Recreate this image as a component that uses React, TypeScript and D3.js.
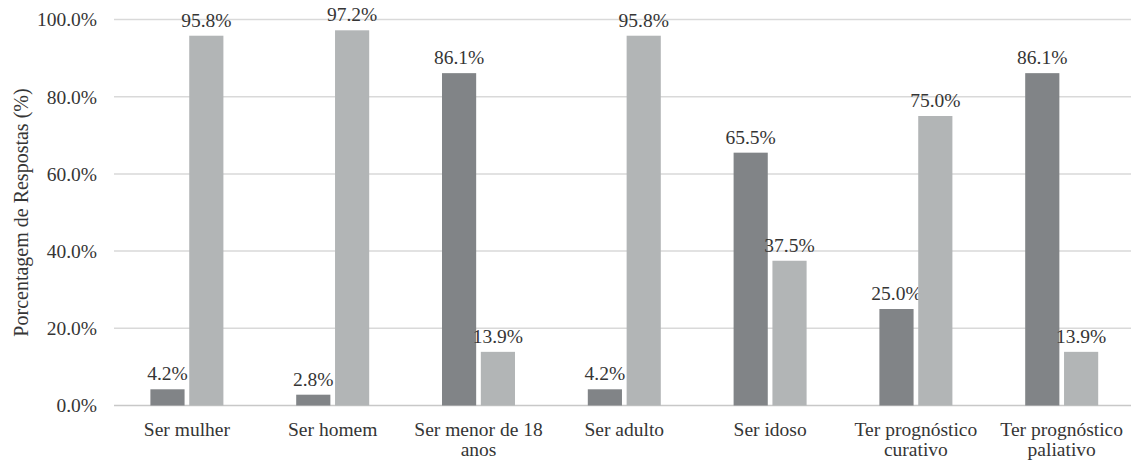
import React from "react";
import * as d3 from "d3";

const categories = [
  "Ser mulher",
  "Ser homem",
  "Ser menor de 18\nanos",
  "Ser adulto",
  "Ser idoso",
  "Ter prognóstico\ncurativo",
  "Ter prognóstico\npaliativo",
];
const seriesDark = [4.2, 2.8, 86.1, 4.2, 65.5, 25.0, 86.1];
const seriesLight = [95.8, 97.2, 13.9, 95.8, 37.5, 75.0, 13.9];
const yTicks = [0, 20, 40, 60, 80, 100];
const yTitle = "Porcentagem de Respostas (%)";

const W = 1131;
const H = 463;
const M = { left: 114, top: 19.5, bottom: 405.5 };
const STEP = 145.8;
const FONT = "'Liberation Serif', 'Times New Roman', serif";
const FS = 19.5;

export default function App() {
  const x = d3
    .scaleBand<string>()
    .domain(categories)
    .range([M.left, M.left + STEP * categories.length])
    .paddingInner(0)
    .paddingOuter(0);
  const inner = d3
    .scaleBand<string>()
    .domain(["dark", "light"])
    .range([36.4, STEP - 36.4])
    .paddingInner(0.12);
  const y = d3.scaleLinear().domain([0, 100]).range([M.bottom, M.top]);
  const fmt = (v: number) => v.toFixed(1) + "%";
  const series = [
    { key: "dark", values: seriesDark, color: "#818487" },
    { key: "light", values: seriesLight, color: "#b2b5b6" },
  ];
  const textColor = "#353535";

  return (
    <svg
      width={W}
      height={H}
      style={{ position: "absolute", left: 0, top: 0, background: "#fff" }}
      fontFamily={FONT}
    >
      {yTicks.map((t) => (
        <g key={t}>
          <line
            x1={M.left}
            x2={W}
            y1={y(t)}
            y2={y(t)}
            stroke={t === 0 ? "#c8c8c8" : "#d9d9d9"}
            strokeWidth={1.5}
          />
          <text
            x={97}
            y={y(t)}
            dy="0.35em"
            textAnchor="end"
            fontSize={FS}
            fill={textColor}
          >
            {fmt(t)}
          </text>
        </g>
      ))}
      <text
        transform={`translate(28, ${(M.top + M.bottom) / 2}) rotate(-90)`}
        textAnchor="middle"
        fontSize={20}
        fill={textColor}
      >
        {yTitle}
      </text>
      {categories.map((c, i) => {
        const gx = x(c)!;
        return (
          <g key={c}>
            {series.map((s) => {
              const bx = gx + inner(s.key)!;
              const bw = inner.bandwidth();
              const v = s.values[i];
              return (
                <g key={s.key}>
                  <rect
                    x={bx}
                    y={y(v)}
                    width={bw}
                    height={y(0) - y(v)}
                    fill={s.color}
                  />
                  <text
                    x={bx + bw / 2}
                    y={y(v) - 9}
                    textAnchor="middle"
                    fontSize={FS}
                    fill={textColor}
                  >
                    {fmt(v)}
                  </text>
                </g>
              );
            })}
            <text
              x={gx + STEP / 2}
              y={436}
              textAnchor="middle"
              fontSize={FS}
              fill={textColor}
            >
              {c.split("\n").map((line, j) => (
                <tspan key={j} x={gx + STEP / 2} dy={j === 0 ? 0 : 20}>
                  {line}
                </tspan>
              ))}
            </text>
          </g>
        );
      })}
    </svg>
  );
}
